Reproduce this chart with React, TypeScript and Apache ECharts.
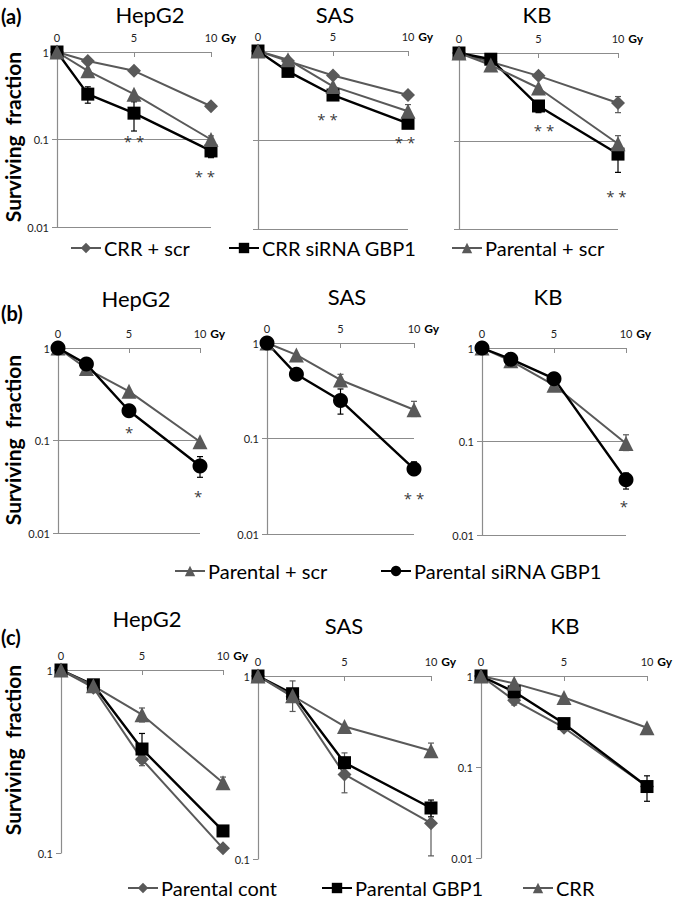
import React, { useEffect, useRef } from "react";
import * as echarts from "echarts";

const FONT = "Lato, 'Open Sans', sans-serif";
const doses = [0, 2, 5, 10];
const cellTitles = ["HepG2", "SAS", "KB"];

// (a) CRR cells
const aCrrScr = [
  [1, 0.79, 0.61, 0.24],
  [1, 0.77, 0.53, 0.32],
  [1, 0.79, 0.55, 0.27],
];
const aCrrSi = [
  [1, 0.33, 0.2, 0.074],
  [1, 0.59, 0.32, 0.154],
  [1, 0.85, 0.25, 0.071],
];
const aParScr = [
  [1, 0.61, 0.33, 0.1],
  [1, 0.8, 0.4, 0.21],
  [1, 0.73, 0.4, 0.093],
];
// (b) parental cells
const bParScr = [
  [1, 0.6, 0.34, 0.097],
  [1, 0.75, 0.41, 0.2],
  [1, 0.73, 0.4, 0.095],
];
const bParSi = [
  [1, 0.67, 0.21, 0.053],
  [1, 0.47, 0.25, 0.048],
  [1, 0.76, 0.47, 0.039],
];
// (c)
const cCont = [
  [1, 0.8, 0.325, 0.106],
  [1, 0.77, 0.29, 0.157],
  [1, 0.54, 0.27, 0.061],
];
const cGbp1 = [
  [1, 0.83, 0.37, 0.132],
  [1, 0.8, 0.336, 0.19],
  [1, 0.67, 0.3, 0.061],
];
const cCrr = [
  [1, 0.82, 0.57, 0.242],
  [1, 0.78, 0.53, 0.39],
  [1, 0.83, 0.58, 0.27],
];

// error bars: [dose, low, high]
const aCrrScrErr = [[[10, 0.23, 0.26]], [], [[10, 0.21, 0.32]]];
const aCrrSiErr = [
  [[2, 0.26, 0.4], [5, 0.125, 0.27], [10, 0.062, 0.08]],
  [[10, 0.14, 0.17]],
  [[5, 0.21, 0.28], [10, 0.044, 0.09]],
];
const aParScrErr = [[[10, 0.09, 0.11]], [[10, 0.19, 0.25]], [[10, 0.08, 0.115]]];
const bParScrErr = [[], [[5, 0.35, 0.47], [10, 0.17, 0.245]], [[10, 0.08, 0.118]]];
const bParSiErr = [[[10, 0.04, 0.067]], [[5, 0.18, 0.33], [10, 0.041, 0.057]], [[10, 0.031, 0.046]]];
const cContErr = [[[5, 0.3, 0.35]], [[5, 0.23, 0.38], [10, 0.104, 0.2]], [[2, 0.48, 0.6]]];
const cGbp1Err = [[[5, 0.31, 0.45]], [[10, 0.17, 0.21]], [[10, 0.042, 0.08]]];
const cCrrErr = [[[5, 0.52, 0.62], [10, 0.23, 0.26]], [[2, 0.64, 0.94], [10, 0.36, 0.43]], []];

// significance marks: [dose, y, text]
const aStars = [
  [[5, 0.108, "* *"], [9.6, 0.042, "* *"]],
  [[4.63, 0.19, "* *"], [9.8, 0.106, "* *"]],
  [[5.35, 0.15, "* *"], [9.9, 0.026, "* *"]],
];
const bStars = [
  [[5, 0.138, "*"], [9.86, 0.028, "*"]],
  [[10, 0.0265, "* *"]],
  [[9.86, 0.0224, "*"]],
];

const GRAY = "#595959";
const STY = {
  diamond: { symbol: "diamond", size: 14, color: GRAY, lw: 2 },
  square: { symbol: "rect", size: 13, color: "#000", lw: 2.4 },
  triangle: { symbol: "triangle", size: 15, color: GRAY, lw: 2 },
  circle: { symbol: "circle", size: 15, color: "#000", lw: 2.4 },
};

type Ser = { name: string; vals: number[]; errs: number[][]; st: any };
type Panel = {
  rect: [number, number, number, number];
  ymin: number;
  ylabels: boolean;
  grid: boolean;
  title: string;
  tx: number;
  ty: number;
  series: Ser[];
  stars: any[];
};

const panels: Panel[] = [];
const aRects: [number, number, number, number][] = [
  [57, 52, 154, 175],
  [258, 51, 150, 178],
  [459, 53, 159, 176],
];
const aTitlePos = [[150, 14], [335, 14], [537, 14]];
const bRects: [number, number, number, number][] = [
  [58, 348, 142, 185],
  [267, 343, 147, 191],
  [482, 348, 144, 187],
];
const bTitlePos = [[136, 298], [347, 296], [548, 296]];
const cRects: [number, number, number, number][] = [
  [61, 670, 162, 183],
  [258, 676, 173, 183],
  [481, 676, 166, 182],
];
const cTitlePos = [[147, 618], [344, 625], [565, 625]];
const cMins = [0.1, 0.1, 0.01];

for (let i = 0; i < 3; i++) {
  panels.push({
    rect: aRects[i], ymin: 0.01, ylabels: i === 0, grid: true,
    title: cellTitles[i], tx: aTitlePos[i][0], ty: aTitlePos[i][1],
    series: [
      { name: "CRR + scr", vals: aCrrScr[i], errs: aCrrScrErr[i], st: STY.diamond },
      { name: "CRR siRNA GBP1", vals: aCrrSi[i], errs: aCrrSiErr[i], st: STY.square },
      { name: "Parental + scr", vals: aParScr[i], errs: aParScrErr[i], st: STY.triangle },
    ],
    stars: aStars[i],
  });
}
for (let i = 0; i < 3; i++) {
  panels.push({
    rect: bRects[i], ymin: 0.01, ylabels: true, grid: true,
    title: cellTitles[i], tx: bTitlePos[i][0], ty: bTitlePos[i][1],
    series: [
      { name: "Parental + scr", vals: bParScr[i], errs: bParScrErr[i], st: STY.triangle },
      { name: "Parental siRNA GBP1", vals: bParSi[i], errs: bParSiErr[i], st: STY.circle },
    ],
    stars: bStars[i],
  });
}
for (let i = 0; i < 3; i++) {
  panels.push({
    rect: cRects[i], ymin: cMins[i], ylabels: true, grid: false,
    title: cellTitles[i], tx: cTitlePos[i][0], ty: cTitlePos[i][1],
    series: [
      { name: "Parental cont", vals: cCont[i], errs: cContErr[i], st: STY.diamond },
      { name: "Parental GBP1", vals: cGbp1[i], errs: cGbp1Err[i], st: STY.square },
      { name: "CRR", vals: cCrr[i], errs: cCrrErr[i], st: STY.triangle },
    ],
    stars: [],
  });
}

const legendItems = [
  { name: "CRR + scr", left: 70, cy: 250 },
  { name: "CRR siRNA GBP1", left: 228, cy: 250 },
  { name: "Parental + scr", left: 451, cy: 250 },
  { name: "Parental + scr", left: 174, cy: 573 },
  { name: "Parental siRNA GBP1", left: 380, cy: 573 },
  { name: "Parental cont", left: 127, cy: 890 },
  { name: "Parental GBP1", left: 321, cy: 890 },
  { name: "CRR", left: 522, cy: 890 },
];

function buildOption() {
  const grid: any[] = [];
  const xAxis: any[] = [];
  const yAxis: any[] = [];
  const series: any[] = [];
  const graphic: any[] = [];

  panels.forEach((p, i) => {
    grid.push({ left: p.rect[0], top: p.rect[1], width: p.rect[2], height: p.rect[3], containLabel: false });
    xAxis.push({
      gridIndex: i, type: "value", min: 0, max: 10, interval: 5, position: "top",
      name: "Gy", nameLocation: "end", nameGap: 8,
      nameTextStyle: { fontFamily: FONT, fontWeight: "bold", fontSize: 12, color: "#000", verticalAlign: "bottom", padding: [0, 0, 9, 0] },
      axisLine: { onZero: false, lineStyle: { color: "#8c8c8c", width: 1.2 } },
      axisTick: { inside: true, length: 5, lineStyle: { color: "#8c8c8c" } },
      axisLabel: { margin: 9, fontFamily: FONT, fontSize: 11, color: "#222" },
      splitLine: { show: false },
    });
    yAxis.push({
      gridIndex: i, type: "log", logBase: 10, min: p.ymin, max: 1,
      axisLine: { show: true, lineStyle: { color: "#8c8c8c", width: 1.2 } },
      axisTick: { show: true, length: 5, lineStyle: { color: "#8c8c8c" } },
      axisLabel: { show: p.ylabels, margin: 8, fontFamily: FONT, fontSize: 11, color: "#222" },
      splitLine: { show: p.grid, lineStyle: { color: "#8c8c8c", width: 1.2 } },
      minorTick: { show: false },
    });
    p.series.forEach((s) => {
      series.push({
        type: "custom", xAxisIndex: i, yAxisIndex: i, silent: true, z: 1,
        encode: { x: 0, y: [1, 2] },
        data: s.errs,
        renderItem: (params: any, api: any) => {
          const x = api.value(0), lo = api.value(1), hi = api.value(2);
          const a = api.coord([x, hi]);
          const b = api.coord([x, lo]);
          const w = 3;
          const st = { stroke: s.st.color, lineWidth: 1.2 };
          return {
            type: "group",
            children: [
              { type: "line", shape: { x1: a[0], y1: a[1], x2: b[0], y2: b[1] }, style: st },
              { type: "line", shape: { x1: a[0] - w, y1: a[1], x2: a[0] + w, y2: a[1] }, style: st },
              { type: "line", shape: { x1: b[0] - w, y1: b[1], x2: b[0] + w, y2: b[1] }, style: st },
            ],
          };
        },
      });
      series.push({
        type: "line", name: s.name, xAxisIndex: i, yAxisIndex: i, z: 2,
        data: doses.map((d, k) => [d, s.vals[k]]),
        symbol: s.st.symbol, symbolSize: s.st.size, showSymbol: true,
        itemStyle: { color: s.st.color, borderWidth: 0 },
        lineStyle: { color: s.st.color, width: s.st.lw },
        emphasis: { disabled: true },
      });
    });
    if (p.stars.length) {
      series.push({
        type: "scatter", xAxisIndex: i, yAxisIndex: i, z: 3, symbolSize: 0, silent: true,
        data: p.stars.map((s: any) => ({
          value: [s[0], s[1]],
          label: { show: true, formatter: s[2], position: "inside", offset: [0, 4], fontFamily: "'Open Sans', sans-serif", fontSize: 15, color: "#000" },
        })),
      });
    }
    graphic.push({
      type: "text", x: p.tx, y: p.ty,
      style: { text: p.title, fontFamily: FONT, fontSize: 22, fill: "#000", align: "center", verticalAlign: "middle" },
    });
  });

  [["(a)", 16], ["(b)", 313], ["(c)", 637]].forEach(([t, y]) => {
    graphic.push({
      type: "text", x: 1, y: y as number,
      style: { text: t as string, fontFamily: FONT, fontSize: 20, fontWeight: "bold", fill: "#000", align: "left", verticalAlign: "middle" },
    });
  });
  [137, 440, 750].forEach((y) => {
    graphic.push({
      type: "text", x: 12, y, rotation: Math.PI / 2,
      style: { text: "Surviving  fraction", fontFamily: FONT, fontSize: 21, fontWeight: "bold", fill: "#000", align: "center", verticalAlign: "middle" },
    });
  });

  const legend = legendItems.map((l) => ({
    data: [l.name], left: l.left, top: l.cy - 12, itemWidth: 30, itemHeight: 13, itemGap: 4,
    selectedMode: false, padding: 0,
    textStyle: { fontFamily: FONT, fontSize: 20, color: "#000", padding: [0, 0, 0, -2] },
  }));

  return { animation: false, backgroundColor: "#fff", grid, xAxis, yAxis, series, graphic, legend };
}

export default function App() {
  const ref = useRef<HTMLDivElement>(null);
  useEffect(() => {
    if (!ref.current) return;
    const chart = echarts.init(ref.current, null, { renderer: "svg" });
    chart.setOption(buildOption() as any);
    return () => chart.dispose();
  }, []);
  return <div ref={ref} style={{ position: "fixed", left: 0, top: 0, width: 675, height: 903, background: "#fff" }} />;
}
